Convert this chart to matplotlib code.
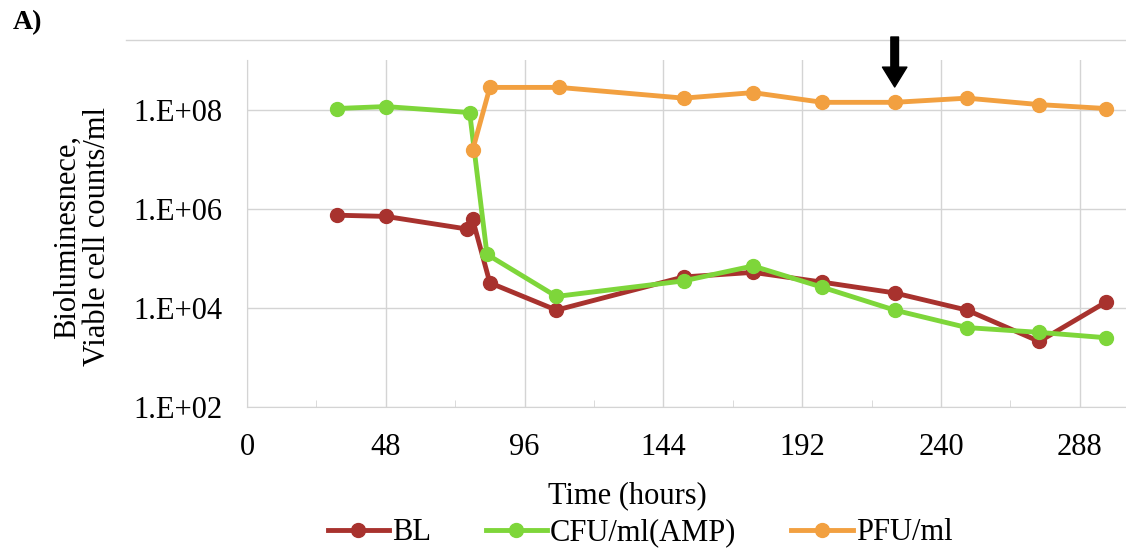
import math
import matplotlib
matplotlib.use("Agg")
import matplotlib.pyplot as plt
from matplotlib.lines import Line2D
from matplotlib.ticker import FixedLocator, MultipleLocator, FuncFormatter

plt.rcParams['font.family'] = ['Liberation Serif', 'DejaVu Serif']

# data (time in hours)
bl_time = [31, 48, 76, 78, 84, 107, 151, 175, 199, 224, 249, 274, 297]
bl_vals = [7.4e5, 7.0e5, 3.9e5, 6.2e5, 3.2e4, 9.0e3, 4.2e4, 5.2e4, 3.3e4, 2.0e4, 9.0e3, 2.1e3, 1.3e4]

cfu_time = [31, 48, 77, 83, 107, 151, 175, 199, 224, 249, 274, 297]
cfu_vals = [1.05e8, 1.15e8, 0.87e8, 1.2e5, 1.7e4, 3.5e4, 7.0e4, 2.6e4, 9.0e3, 4.0e3, 3.2e3, 2.5e3]

pfu_time = [78, 84, 108, 151, 175, 199, 224, 249, 274, 297]
pfu_vals = [1.5e7, 2.8e8, 2.8e8, 1.7e8, 2.2e8, 1.4e8, 1.4e8, 1.7e8, 1.26e8, 1.05e8]

series_names = ['BL', 'CFU/ml(AMP)', 'PFU/ml']
series_colors = ['#a8322e', '#7ed63a', '#f2a040']
arrow_time = 224

x_ticks = [0, 48, 96, 144, 192, 240, 288]
y_ticks = [1e2, 1e4, 1e6, 1e8]

W, H = 1126, 556
ax_l, ax_r, ax_t, ax_b = 247, 1126, 60, 407
ax_w, ax_h = ax_r - ax_l, ax_b - ax_t

fig = plt.figure(figsize=(W / 100, H / 100), dpi=100)
ax = fig.add_axes([ax_l / W, 1 - ax_b / H, ax_w / W, ax_h / H])

for t, v, name, c in zip([bl_time, cfu_time, pfu_time], [bl_vals, cfu_vals, pfu_vals],
                         series_names, series_colors):
    ax.plot(t, v, color=c, lw=3.5, marker='o', ms=10, label=name, zorder=3)

ax.set_yscale('log')
ax.set_ylim(1e2, 1e9)
ax.set_xlim(0, 304)
ax.yaxis.set_major_locator(FixedLocator(y_ticks))
ax.yaxis.set_minor_locator(FixedLocator([]))
ax.yaxis.set_major_formatter(FuncFormatter(lambda v, p: '1.E+%02d' % round(math.log10(v))))
ax.xaxis.set_major_locator(FixedLocator(x_ticks))
ax.xaxis.set_minor_locator(MultipleLocator(24))

grid_c = '#d4d4d4'
ax.grid(True, which='major', color=grid_c, lw=1)
for s in ['top', 'right']:
    ax.spines[s].set_visible(False)
for s in ['left', 'bottom']:
    ax.spines[s].set_color(grid_c)
ax.tick_params(axis='both', which='major', length=0, labelsize=22, colors='black')
ax.tick_params(axis='y', pad=18)
ax.tick_params(axis='x', pad=19)
ax.tick_params(axis='x', which='minor', direction='in', length=5, color=grid_c)

ax.set_xlabel('Time (hours)', fontsize=22)
ax.xaxis.set_label_coords((627 - ax_l) / ax_w, (ax_b - 481) / ax_h)
ax.set_ylabel('Bioluminesnece,\nViable cell counts/ml', fontsize=22, linespacing=1.05)
ax.yaxis.set_label_coords((112 - ax_l) / ax_w, (ax_b - 237) / ax_h)

# chart frame top border (kept underneath everything else)
fig.add_artist(Line2D([126 / W, 1], [1 - 40 / H, 1 - 40 / H], color=grid_c, lw=1, zorder=-1))

# arrow marking the time point
ax.annotate('', xy=(arrow_time, (ax_b - 87) / ax_h), xytext=(arrow_time, (ax_b - 37) / ax_h),
            xycoords=('data', 'axes fraction'), textcoords=('data', 'axes fraction'),
            arrowprops=dict(arrowstyle='simple,tail_width=0.5,head_width=1.6,head_length=1.3',
                            mutation_scale=11, color='black', shrinkA=0, shrinkB=0,
                            clip_on=False),
            annotation_clip=False, zorder=5)

fig.text(13 / W, 1 - 23 / H, 'A)', fontsize=20, fontweight='bold', va='center')

ax.legend(loc='center', bbox_to_anchor=((640 - ax_l) / ax_w, (ax_b - 533) / ax_h), ncol=3,
          frameon=False, fontsize=22, handlelength=2.0, handletextpad=0.1, columnspacing=1.8)

fig.savefig('out.png', dpi=100)
